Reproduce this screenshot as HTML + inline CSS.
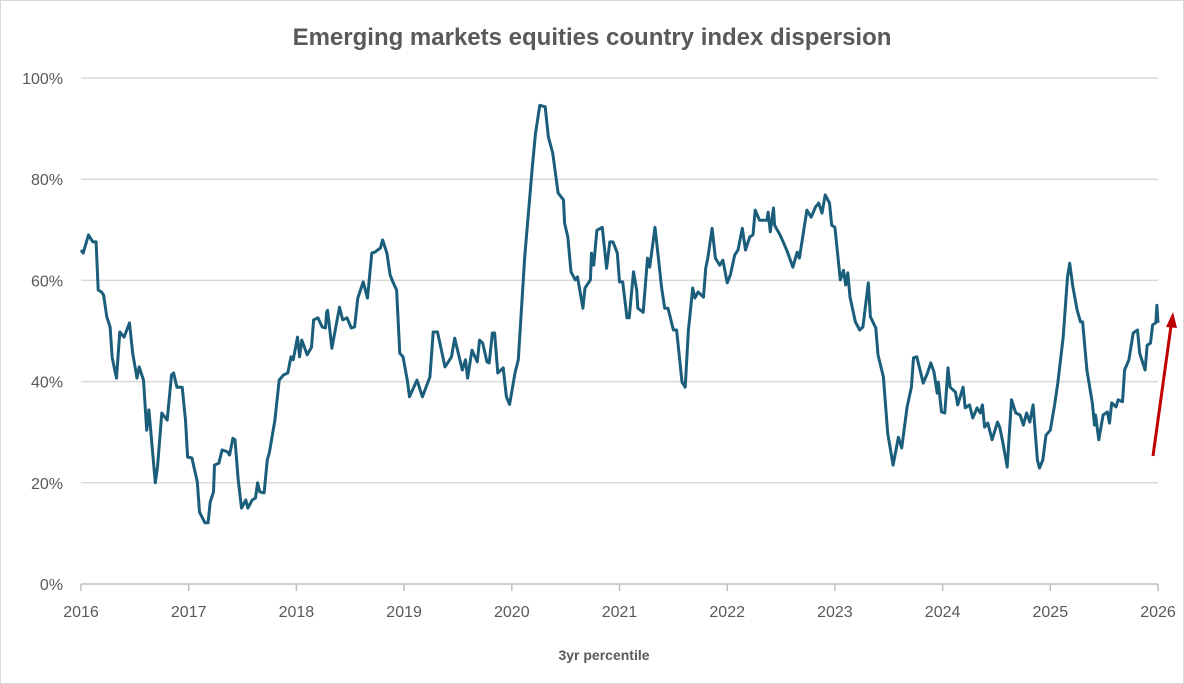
<!DOCTYPE html>
<html><head><meta charset="utf-8"><style>
body{margin:0;background:#fff;}
svg{display:block;font-family:"Liberation Sans",Arial,sans-serif;}
</style></head><body>
<svg id="chart" width="1184" height="684" viewBox="0 0 1184 684">
<rect x="0.5" y="0.5" width="1183" height="683" fill="#fff" stroke="#d9d9d9"/>
<text x="592" y="45" text-anchor="middle" font-size="24" font-weight="bold" fill="#595959">Emerging markets equities country index dispersion</text>
<g id="grid"></g><g id="yticks"></g><g id="xticks"></g>
<path id="series" fill="none" stroke="#1b5e7b" stroke-width="3" stroke-linejoin="round"/>
<g>
<line x1="1153" y1="456" x2="1171" y2="326" stroke="#c00000" stroke-width="3"/>
<polygon points="1173,312 1166,327 1177,328" fill="#c00000"/>
</g>
<text x="604" y="660" text-anchor="middle" font-size="14" font-weight="bold" fill="#595959">3yr percentile</text>
</svg>
<script>
const yTicks=[0,20,40,60,80,100];
const xYears=[2016,2017,2018,2019,2020,2021,2022,2023,2024,2025,2026];
const dates=[2016.00,2016.02,2016.07,2016.11,2016.14,2016.16,2016.19,2016.21,2016.24,2016.27,2016.29,2016.33,2016.36,2016.40,2016.45,2016.48,2016.52,2016.54,2016.58,2016.61,2016.63,2016.69,2016.71,2016.75,2016.80,2016.84,2016.86,2016.89,2016.94,2016.97,2016.99,2017.03,2017.08,2017.10,2017.15,2017.18,2017.20,2017.23,2017.24,2017.28,2017.31,2017.36,2017.38,2017.41,2017.43,2017.46,2017.49,2017.53,2017.55,2017.59,2017.62,2017.64,2017.66,2017.70,2017.73,2017.75,2017.80,2017.84,2017.88,2017.92,2017.95,2017.97,2018.01,2018.03,2018.05,2018.10,2018.14,2018.16,2018.20,2018.24,2018.27,2018.28,2018.29,2018.33,2018.37,2018.40,2018.43,2018.47,2018.51,2018.54,2018.57,2018.62,2018.66,2018.70,2018.73,2018.78,2018.80,2018.84,2018.87,2018.90,2018.93,2018.96,2018.99,2019.03,2019.05,2019.12,2019.17,2019.24,2019.27,2019.31,2019.38,2019.41,2019.44,2019.47,2019.54,2019.57,2019.59,2019.63,2019.68,2019.70,2019.73,2019.77,2019.79,2019.82,2019.84,2019.87,2019.92,2019.95,2019.98,2020.03,2020.06,2020.12,2020.19,2020.22,2020.26,2020.31,2020.34,2020.38,2020.43,2020.48,2020.49,2020.52,2020.55,2020.59,2020.61,2020.66,2020.68,2020.73,2020.74,2020.76,2020.79,2020.84,2020.88,2020.91,2020.94,2020.98,2021.00,2021.03,2021.07,2021.09,2021.13,2021.16,2021.17,2021.22,2021.26,2021.28,2021.33,2021.36,2021.39,2021.42,2021.45,2021.50,2021.53,2021.58,2021.61,2021.64,2021.65,2021.68,2021.70,2021.73,2021.78,2021.80,2021.82,2021.86,2021.89,2021.93,2021.96,2022.00,2022.03,2022.07,2022.10,2022.14,2022.17,2022.21,2022.24,2022.26,2022.30,2022.37,2022.38,2022.40,2022.43,2022.44,2022.49,2022.52,2022.56,2022.61,2022.65,2022.67,2022.74,2022.78,2022.82,2022.85,2022.88,2022.91,2022.95,2022.97,2023.00,2023.05,2023.08,2023.10,2023.12,2023.14,2023.19,2023.23,2023.26,2023.31,2023.33,2023.38,2023.40,2023.45,2023.49,2023.54,2023.59,2023.62,2023.67,2023.71,2023.73,2023.76,2023.82,2023.86,2023.89,2023.92,2023.95,2023.96,2023.99,2024.02,2024.05,2024.07,2024.12,2024.14,2024.19,2024.21,2024.25,2024.28,2024.32,2024.35,2024.37,2024.39,2024.42,2024.46,2024.51,2024.53,2024.56,2024.60,2024.64,2024.68,2024.72,2024.75,2024.78,2024.81,2024.84,2024.88,2024.90,2024.93,2024.96,2025.00,2025.04,2025.07,2025.12,2025.16,2025.18,2025.21,2025.25,2025.28,2025.30,2025.34,2025.39,2025.41,2025.42,2025.45,2025.49,2025.53,2025.55,2025.57,2025.61,2025.63,2025.67,2025.69,2025.73,2025.77,2025.81,2025.83,2025.88,2025.90,2025.93,2025.95,2025.98,2025.99,2026.00];
const values=[66.0,65.4,69.0,67.6,67.6,58.1,57.7,57.1,52.8,50.8,44.7,40.7,49.8,48.8,51.6,45.6,40.7,42.9,40.3,30.4,34.4,20.0,23.1,33.8,32.4,41.3,41.7,38.9,38.9,32.4,25.1,24.9,20.2,14.2,12.1,12.1,16.2,18.2,23.5,23.9,26.5,26.1,25.5,28.8,28.5,20.6,15.0,16.6,15.0,16.6,17.0,20.0,18.2,18.0,24.5,26.1,32.4,40.3,41.3,41.7,44.9,44.3,48.8,44.9,48.2,45.3,46.8,52.2,52.6,50.8,50.6,53.7,54.1,46.6,51.2,54.7,52.2,52.6,50.6,50.8,56.5,59.7,56.5,65.4,65.6,66.4,68.0,65.4,61.1,59.5,58.1,45.6,44.9,40.3,37.0,40.3,37.0,40.9,49.8,49.8,42.9,43.9,44.9,48.6,42.3,44.3,40.7,46.2,43.9,48.2,47.6,43.9,43.7,49.6,49.6,41.7,42.7,37.0,35.5,41.7,44.3,64.6,82.4,89.1,94.6,94.3,88.3,85.2,77.3,75.9,71.3,68.6,61.7,60.1,60.7,54.5,58.5,60.1,65.4,63.0,69.9,70.5,62.4,67.6,67.6,65.4,59.7,59.7,52.6,52.6,61.7,58.1,54.5,53.7,64.4,62.6,70.5,64.6,58.7,54.5,54.5,50.2,50.2,39.9,38.9,50.2,52.2,58.5,56.5,57.7,56.7,62.4,64.4,70.3,64.4,63.0,64.0,59.5,61.1,65.0,66.0,70.3,66.0,68.6,69.0,73.9,71.9,71.9,73.5,69.6,74.3,70.9,69.0,67.6,65.6,62.6,65.6,64.4,73.9,72.5,74.5,75.3,73.3,76.9,75.3,70.9,70.5,60.1,62.0,59.1,61.5,56.7,51.8,50.2,50.8,59.5,52.8,50.6,45.3,40.9,29.8,23.5,29.0,26.9,35.0,38.9,44.7,44.9,39.7,41.7,43.7,41.9,37.7,39.9,34.0,33.8,42.7,38.9,37.9,35.4,38.9,34.8,35.4,32.8,34.8,33.8,35.4,31.0,31.8,28.5,32.0,31.0,27.9,23.1,36.4,33.8,33.4,31.4,33.8,32.0,35.4,24.5,22.9,24.5,29.4,30.4,35.4,39.7,48.8,60.7,63.4,58.7,54.1,51.8,51.8,42.3,35.8,31.4,33.4,28.5,33.4,34.0,31.8,35.8,35.0,36.4,36.0,42.3,44.3,49.6,50.2,45.6,42.3,47.2,47.6,51.2,51.6,55.1,51.6];

const X0=81,X1=1158,Y0=584,Y1=78;
const xs=d=>X0+(d-2016)/(2026-2016)*(X1-X0);
const ys=v=>Y0-v/100*(Y0-Y1);
const NS='http://www.w3.org/2000/svg';
const grid=document.getElementById('grid'),yt=document.getElementById('yticks'),xt=document.getElementById('xticks');
yTicks.forEach(t=>{
  const y=ys(t);
  if(t>0){const l=document.createElementNS(NS,'line');
  l.setAttribute('x1',X0);l.setAttribute('x2',X1);l.setAttribute('y1',y);l.setAttribute('y2',y);
  l.setAttribute('stroke','#d9d9d9');l.setAttribute('stroke-width','1.5');
  
  
  grid.appendChild(l);}
  const tx=document.createElementNS(NS,'text');
  tx.setAttribute('x',63);tx.setAttribute('y',y+6);tx.setAttribute('text-anchor','end');
  tx.setAttribute('font-size','16');tx.setAttribute('fill','#595959');
  tx.textContent=t+'%';
  
  
  yt.appendChild(tx);
});
const ax=document.createElementNS(NS,'line');
ax.setAttribute('x1',X0);ax.setAttribute('x2',X1);ax.setAttribute('y1',Y0);ax.setAttribute('y2',Y0);
ax.setAttribute('stroke','#bfbfbf');ax.setAttribute('stroke-width','1.5');


xt.appendChild(ax);
xYears.forEach(yr=>{
  const x=xs(yr);
  const tk=document.createElementNS(NS,'line');
  tk.setAttribute('x1',x);tk.setAttribute('x2',x);tk.setAttribute('y1',Y0);tk.setAttribute('y2',Y0+7);
  tk.setAttribute('stroke','#bfbfbf');tk.setAttribute('stroke-width','1.5');
  
  
  xt.appendChild(tk);
  const tx=document.createElementNS(NS,'text');
  tx.setAttribute('x',x);tx.setAttribute('y',617);tx.setAttribute('text-anchor','middle');
  tx.setAttribute('font-size','16');tx.setAttribute('fill','#595959');
  tx.textContent=yr;
  
  
  xt.appendChild(tx);
});
document.getElementById('series').setAttribute('d',dates.map((d,i)=>(i?'L':'M')+xs(d).toFixed(1)+' '+ys(values[i]).toFixed(1)).join(' '));
</script>
</body></html>
